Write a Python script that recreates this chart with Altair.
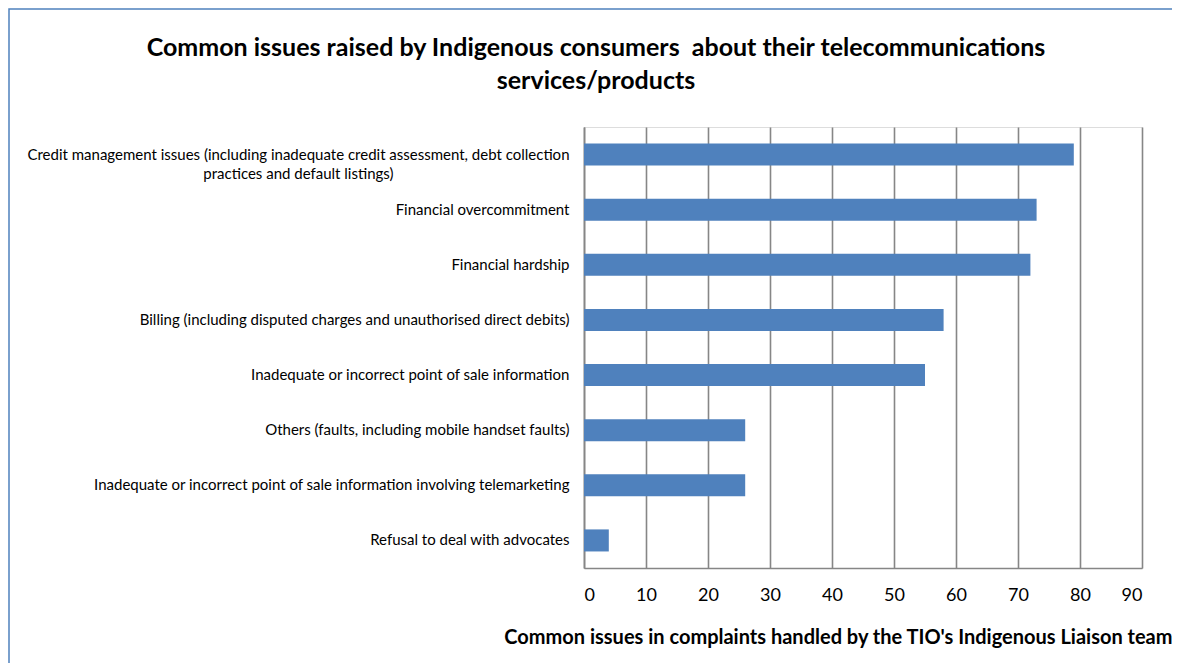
import altair as alt
import pandas as pd

NB = "\u00a0"
BL = "\u2800"
categories = [
    ["Credit management issues (including inadequate credit assessment, debt collection",
     "practices and default listings)" + BL * 16],
    "Financial overcommitment",
    "Financial hardship",
    "Billing (including disputed charges and unauthorised direct debits)",
    "Inadequate or incorrect point of sale information",
    "Others (faults, including mobile handset faults)",
    "Inadequate or incorrect point of sale information involving telemarketing",
    "Refusal to deal with advocates",
]
values = [79, 73, 72, 58, 55, 26, 26, 4]
x_ticks = [0, 10, 20, 30, 40, 50, 60, 70, 80, 90]

keys = ["c%d" % i for i in range(len(categories))]
label_map = {k: c for k, c in zip(keys, categories)}
df = pd.DataFrame({"key": keys, "value": values})

label_expr = "datum.value == 'c0' ? " + \
    "['" + categories[0][0] + "', '" + categories[0][1] + "']" + \
    "".join(" : datum.value == '%s' ? '%s'" % (k, label_map[k]) for k in keys[1:]) + " : ''"

W, H = 558, 441
FONT = "Lato"

bars = alt.Chart(df).mark_bar(color="#4F81BD").encode(
    x=alt.X("value:Q",
            scale=alt.Scale(domain=[0, 90], nice=False),
            axis=alt.Axis(values=x_ticks, grid=True, gridColor="#868686", gridWidth=1.6,
                          domainColor="#868686", domainWidth=1.6, ticks=False,
                          labelFontSize=18, labelFont=FONT, labelColor="#000000",
                          labelPadding=18, labelFontWeight="normal",
                          title="Common issues in complaints handled by the TIO's Indigenous Liaison team",
                          titleFont=FONT, titleFontSize=20, titleFontWeight="bold",
                          titleColor="#000000", titleAnchor="end", titleAlign="right",
                          titleBaseline="middle", titleX=W + 30, titleY=69)),
    y=alt.Y("key:N", sort=keys,
            scale=alt.Scale(paddingInner=0.6, paddingOuter=0.3),
            axis=alt.Axis(title=None, ticks=False, domainColor="#868686", domainWidth=1.6,
                          labelFont=FONT, labelFontSize=15, labelColor="#000000",
                          labelPadding=15, labelLimit=0, labelExpr=label_expr,
                          labelLineHeight=19)),
)

frame = alt.Chart(pd.DataFrame({"a": [0]})).mark_rect(
    fill=None, stroke="#4F81BD", strokeWidth=1.5
).encode(
    x=alt.value(-575), x2=alt.value(W + 200),
    y=alt.value(-118), y2=alt.value(H + 300),
)

chart = alt.layer(frame, bars).properties(
    width=W, height=H,
    title=alt.TitleParams(
        ["Common issues raised by Indigenous consumers" + NB + " about their telecommunications",
         "services/products"],
        font=FONT, fontSize=25, fontWeight="bold", color="#000000",
        anchor="middle", frame="group", dx=-267, offset=-111, baseline="bottom",
        lineHeight=33),
    padding={"left": 576, "top": 119, "right": 30, "bottom": 95},
    autosize=alt.AutoSizeParams(type="none"),
).configure_view(stroke=None).configure(background="white")

chart.save("out.html", embed_options={"renderer": "svg", "actions": False})
